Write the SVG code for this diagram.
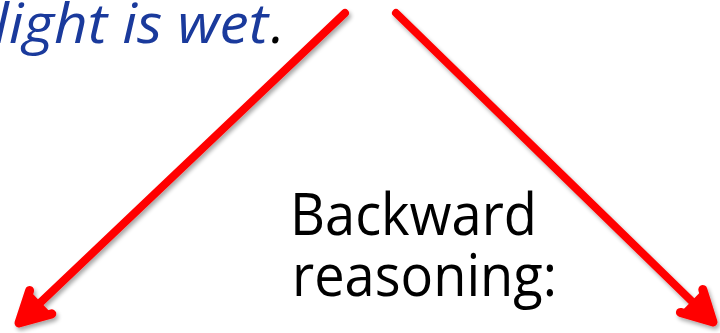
<svg xmlns="http://www.w3.org/2000/svg" width="720" height="333" viewBox="0 0 720 333">
  <defs>
    <filter id="shadow" x="-10%" y="-10%" width="120%" height="120%">
      <feGaussianBlur in="SourceAlpha" stdDeviation="2"/>
      <feOffset dx="2" dy="3" result="b"/>
      <feComponentTransfer><feFuncA type="linear" slope="0.35"/></feComponentTransfer>
      <feMerge><feMergeNode/><feMergeNode in="SourceGraphic"/></feMerge>
    </filter>
  </defs>
  <style>
    .arrow { fill: none; stroke: #ff0000; stroke-width: 8; stroke-linecap: round; stroke-linejoin: round; }
    .head { fill: #ff0000; stroke: #ff0000; stroke-width: 9; stroke-linecap: round; stroke-linejoin: round; }
    .big { font-family: "Open Sans", "Liberation Sans", sans-serif; font-size: 58px; fill: #000000; }
    .blue { font-family: "Open Sans", "Liberation Sans", sans-serif; font-size: 54px; font-style: italic; fill: #1a3a9c; }
  </style>
  <rect width="720" height="333" fill="#ffffff"/>
  <g id="statement">
    <text class="blue" x="-6" y="43" textLength="274" lengthAdjust="spacingAndGlyphs">light is wet</text>
    <text class="blue" x="271" y="43" style="fill:#000000">.</text>
  </g>
  <g id="label">
    <text class="big" x="290" y="235" textLength="247" lengthAdjust="spacingAndGlyphs">Backward</text>
    <text class="big" x="292" y="296" textLength="265" lengthAdjust="spacingAndGlyphs">reasoning:</text>
  </g>
  <g id="connectors" filter="url(#shadow)">
    <g id="arrow-left">
      <line class="arrow" x1="345" y1="13" x2="22" y2="320"/>
      <path class="head" d="M29.6,290.6 L19,323 L51.8,313.8"/>
    </g>
    <g id="arrow-right">
      <line class="arrow" x1="396" y1="13" x2="710" y2="319"/>
      <path class="head" d="M702.8,289.6 L713,322 L680.4,312.4"/>
    </g>
  </g>
</svg>
